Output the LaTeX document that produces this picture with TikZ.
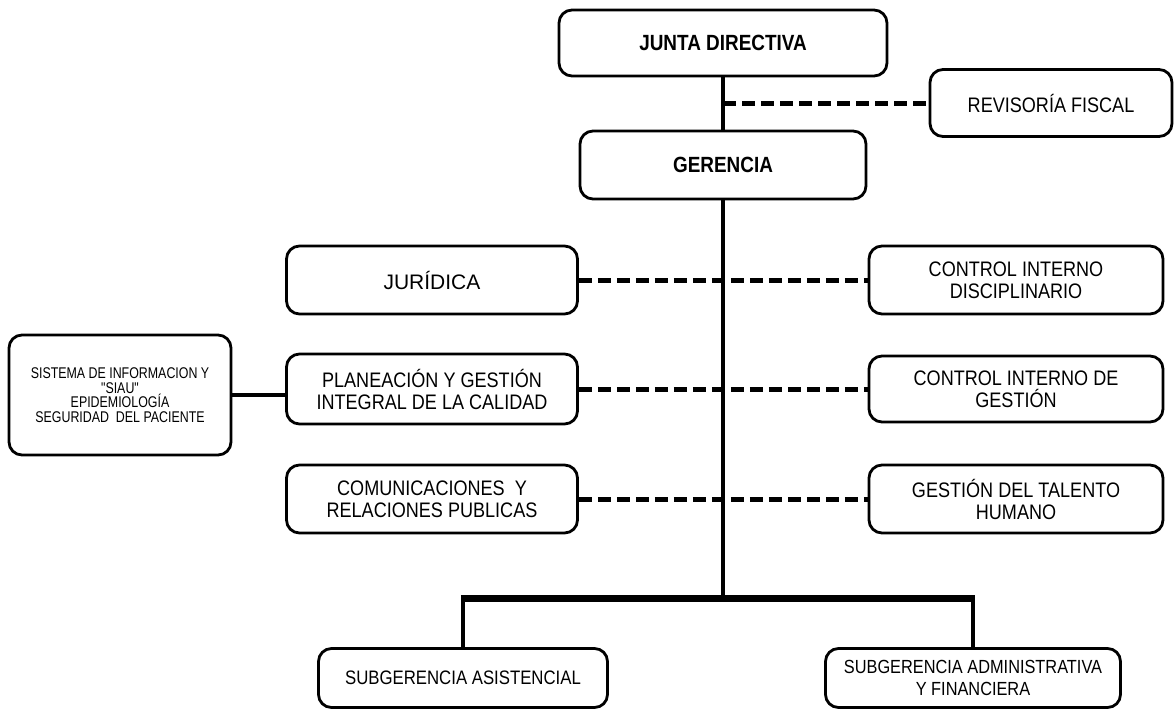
\documentclass[tikz,border=0pt]{standalone}
\usepackage{fontspec}
\setmainfont{Liberation Sans}[FakeStretch=0.86]
\newfontfamily\plainsans{Liberation Sans}
\newfontfamily\narrowsans{Liberation Sans}[FakeStretch=0.8]
\tikzset{
  unit/.style={draw, line width=2.8pt, rounded corners=13pt, align=center, inner sep=0pt,
    font=\fontsize{21}{22}\selectfont},
  topunit/.style={unit, font=\fontsize{22}{24}\selectfont\bfseries},
  lowunit/.style={unit, font=\fontsize{19}{22}\selectfont},
  trunk/.style={line width=4.5pt},
  busline/.style={line width=7pt},
  dashlink/.style={line width=5pt, dash pattern=on 13pt off 6pt},
}
\begin{document}
\begin{tikzpicture}[x=1pt, y=-1pt]
                \useasboundingbox (0,0) rectangle (1174,712);%
                
                % Drawing the two top boxes
                \node [topunit, minimum width=328, minimum height=66] (junta) at (723,43) {JUNTA DIRECTIVA};%
                \node [topunit, minimum width=286, minimum height=68] (gerencia) at (723,165) {GERENCIA};%
                \node [unit, minimum width=242, minimum height=67] (revisoria) at (1051,103) {REVISORÍA FISCAL};%
                
                % Drawing the left column
                \node [unit, minimum width=291, minimum height=68] (juridica) at (432,280) {\plainsans JURÍDICA};%
                \node [unit, minimum width=291, minimum height=70] (planeacion) at (432,389) {PLANEACIÓN Y GESTIÓN\\INTEGRAL DE LA CALIDAD};%
                \node [unit, minimum width=291, minimum height=68] (comunicaciones) at (432,499) {COMUNICACIONES \ Y\\RELACIONES PUBLICAS};%
                \node [unit, minimum width=222, minimum height=120, font=\narrowsans\fontsize{15.5}{14.5}\selectfont] (sistema) at (120,395)
                  {SISTEMA DE INFORMACION Y\\"SIAU"\\EPIDEMIOLOGÍA\\SEGURIDAD \ DEL PACIENTE};%
                
                % Drawing the right column
                \node [unit, minimum width=294, minimum height=68] (disciplinario) at (1016,280) {CONTROL INTERNO\\DISCIPLINARIO};%
                \node [unit, minimum width=294, minimum height=66] (gestion) at (1016,389) {CONTROL INTERNO DE\\GESTIÓN};%
                \node [unit, minimum width=294, minimum height=68] (talento) at (1016,499) {GESTIÓN DEL TALENTO\\HUMANO};%
                
                % Drawing the two bottom boxes
                \node [lowunit, minimum width=289, minimum height=59, font=\fontsize{19.5}{22}\selectfont] (asistencial) at (463,678) {SUBGERENCIA ASISTENCIAL};%
                \node [lowunit, minimum width=295, minimum height=59] (administrativa) at (973,678) {SUBGERENCIA ADMINISTRATIVA\\Y FINANCIERA};%
                \coordinate (bus) at (723,598);%
                
                % Drawing dashed links
                \draw [dashlink] (junta.south |- revisoria.west) -- (revisoria.west);%
                \draw [dashlink] (juridica.east) -- (disciplinario.west);%
                \draw [dashlink] (planeacion.east) -- (gestion.west);%
                \draw [dashlink] (comunicaciones.east) -- (talento.west);%
                
                % Drawing trunk and bus
                \draw [trunk] (junta.south) -- (gerencia.north);%
                \draw [trunk] (gerencia.south) -- (bus);%
                \draw [trunk] (sistema.east) -- (sistema.east -| planeacion.west);%
                \draw [trunk] (asistencial.north) -- (asistencial.north |- bus);%
                \draw [trunk] (administrativa.north) -- (administrativa.north |- bus);%
                \draw [busline] ([xshift=-2.25pt]asistencial.north |- bus) -- ([xshift=2.25pt]administrativa.north |- bus);%
\end{tikzpicture}
\end{document}
